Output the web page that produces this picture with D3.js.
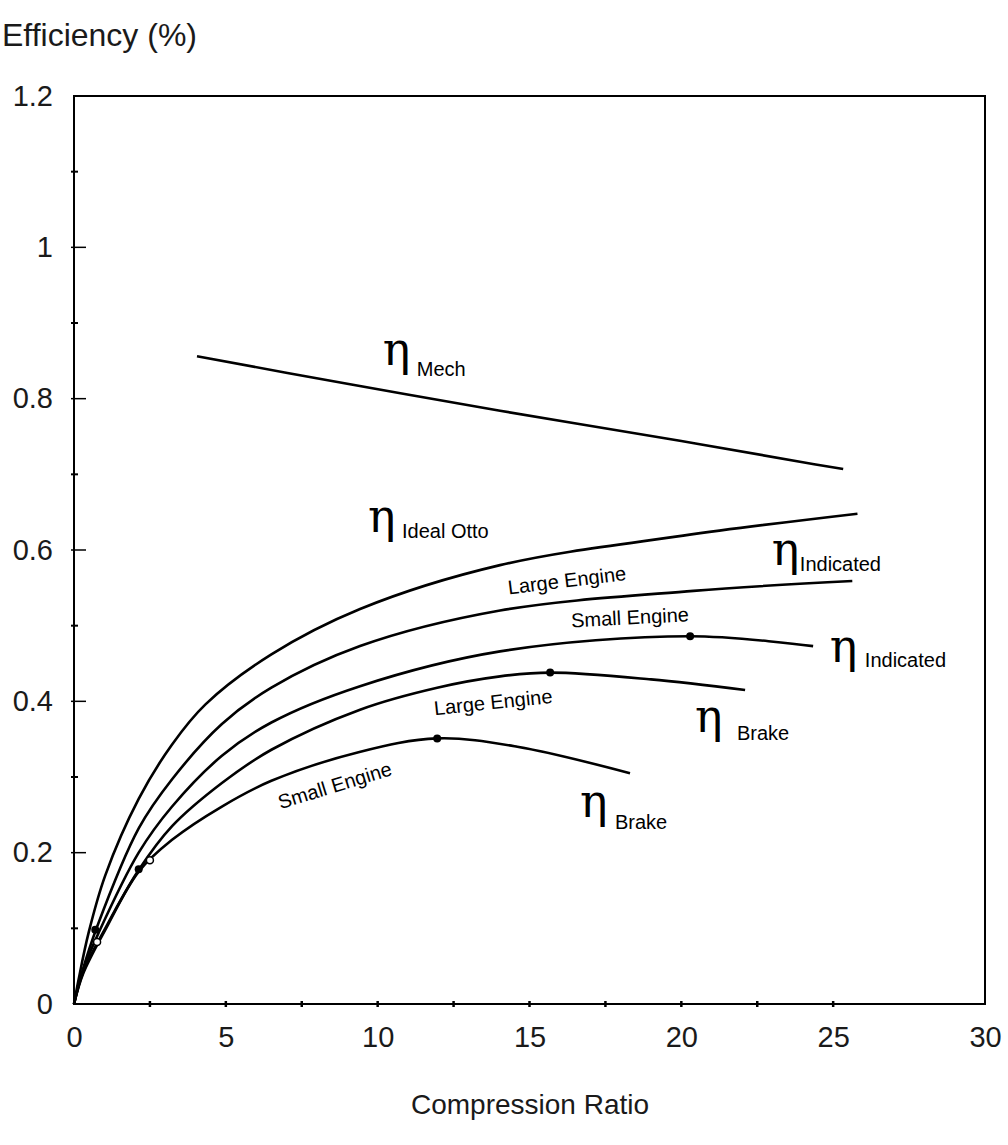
<html>
<head>
<meta charset="utf-8"/>
<script src="https://d3js.org/d3.v7.min.js"></script>
<style type="text/css">
body {
  margin: 0;
  background: #fff;
  font-family: "Liberation Sans", Arial, Helvetica, sans-serif;
}
</style>
</head>
<body>
<div id="v"></div>
<script type="text/javascript">
// values: [compression ratio, efficiency]
var idealOtto = [[0,0],[0.15,0.032],[0.48,0.094],[1.03,0.170],[2.13,0.271],[3.23,0.343],[4.33,0.396],[6.5,0.462],[9.42,0.522],[14.03,0.580],[20.06,0.619],[25.8,0.648]];
var largeIndicated = [[0,0],[0.26,0.041],[0.76,0.102],[2.13,0.232],[3.23,0.297],[4.87,0.370],[6.5,0.418],[9.42,0.473],[14.03,0.520],[20.4,0.546],[25.63,0.559]];
var smallIndicated = [[0,0],[0.3,0.045],[0.81,0.094],[2.13,0.2],[3.23,0.261],[4.87,0.328],[6.5,0.372],[9.42,0.420],[14.03,0.466],[20.29,0.486],[24.34,0.473]];
var largeBrake = [[0,0],[0.3,0.042],[1.03,0.100],[2.13,0.177],[3.23,0.235],[4.87,0.292],[6.5,0.336],[9.42,0.389],[11.96,0.418],[14.03,0.433],[15.68,0.438],[19,0.429],[22.1,0.415]];
var smallBrake = [[0,0],[0.3,0.040],[1.03,0.098],[2.13,0.175],[3.23,0.217],[4.87,0.261],[6.5,0.295],[9.4,0.333],[11.96,0.351],[14.6,0.340],[18.31,0.305]];
var mech = [[4.05,0.856],[9.09,0.819],[14.03,0.784],[20,0.744],[24,0.716],[25.33,0.707]];

var filledDots = [[20.29,0.486],[15.68,0.438],[11.96,0.351],[2.13,0.178],[0.70,0.098]];
var openDots = [[2.5,0.19],[0.76,0.082]];

var xTicks = [0,5,10,15,20,25,30];
var yTicks = [0,0.2,0.4,0.6,0.8,1,1.2];
var xMinor = [2.5,5,7.5,10,12.5,15,17.5,20,22.5,25];
var yMinor = [0.1,0.3,0.5,0.7,0.9,1.1];
var yMajorInner = [0.2,0.4,0.6,0.8,1];

var width = 1008, height = 1145;
var x = d3.scaleLinear().domain([0,30]).range([74,985]);
var y = d3.scaleLinear().domain([0,1.2]).range([1004,96]);

var svg = d3.select("#v").append("svg")
  .attr("width", width)
  .attr("height", height);

// frame
svg.append("rect")
  .attr("x", x(0)).attr("y", y(1.2))
  .attr("width", x(30) - x(0)).attr("height", y(0) - y(1.2))
  .attr("fill", "none").attr("stroke", "#000").attr("stroke-width", 2);

// axes (labels only, ticks drawn below)
var yAxis = svg.append("g")
  .attr("transform", "translate(" + x(0) + ",0)")
  .call(d3.axisLeft(y).tickValues(yTicks).tickSize(0).tickPadding(21).tickFormat(d3.format("")));
var xAxis = svg.append("g")
  .attr("transform", "translate(0," + y(0) + ")")
  .call(d3.axisBottom(x).tickValues(xTicks).tickSize(0).tickPadding(22).tickFormat(d3.format("d")));
[yAxis, xAxis].forEach(function(a) {
  a.select(".domain").remove();
  a.selectAll("text")
    .style("font-family", "'Liberation Sans', Arial, sans-serif")
    .style("font-size", "29px")
    .attr("fill", "#1a1a1a");
});

svg.selectAll(".yminor").data(yMinor).enter().append("line")
  .attr("x1", x(0) - 3).attr("x2", x(0) + 4)
  .attr("y1", function(d) { return y(d); }).attr("y2", function(d) { return y(d); })
  .attr("stroke", "#000").attr("stroke-width", 2);
svg.selectAll(".ymajor").data(yMajorInner).enter().append("line")
  .attr("x1", x(0) - 3).attr("x2", x(0) + 12)
  .attr("y1", function(d) { return y(d); }).attr("y2", function(d) { return y(d); })
  .attr("stroke", "#000").attr("stroke-width", 1.5);
svg.selectAll(".xminor").data(xMinor).enter().append("line")
  .attr("x1", function(d) { return x(d); }).attr("x2", function(d) { return x(d); })
  .attr("y1", y(0) - 3).attr("y2", y(0) + 3)
  .attr("stroke", "#000").attr("stroke-width", 2.5);

// curves
var line = d3.line()
  .x(function(d) { return x(d[0]); })
  .y(function(d) { return y(d[1]); })
  .curve(d3.curveCatmullRom.alpha(0.5));

[idealOtto, largeIndicated, smallIndicated, largeBrake, smallBrake, mech].forEach(function(s) {
  svg.append("path")
    .datum(s)
    .attr("d", line)
    .attr("fill", "none")
    .attr("stroke", "#000")
    .attr("stroke-width", 2.6)
    .attr("stroke-linejoin", "round");
});

svg.selectAll(".fdot").data(filledDots).enter().append("circle")
  .attr("cx", function(d) { return x(d[0]); })
  .attr("cy", function(d) { return y(d[1]); })
  .attr("r", 4).attr("fill", "#000");
svg.selectAll(".odot").data(openDots).enter().append("circle")
  .attr("cx", function(d) { return x(d[0]); })
  .attr("cy", function(d) { return y(d[1]); })
  .attr("r", 3.5).attr("fill", "#fff").attr("stroke", "#000").attr("stroke-width", 1.5);

// eta labels: position of the eta glyph, subscript offset in px
var etaLabels = [
  {x: 10.17, y: 0.844, sub: "Mech", dx: 34, dy: 11},
  {x: 9.68, y: 0.624, sub: "Ideal Otto", dx: 34, dy: 6},
  {x: 22.98, y: 0.580, sub: "Indicated", dx: 28, dy: 6},
  {x: 24.89, y: 0.452, sub: "Indicated", dx: 35, dy: 5},
  {x: 20.45, y: 0.359, sub: "Brake", dx: 42, dy: 8},
  {x: 16.66, y: 0.247, sub: "Brake", dx: 35, dy: 12}
];
var eg = svg.selectAll(".eta").data(etaLabels).enter().append("g")
  .attr("transform", function(d) { return "translate(" + x(d.x) + "," + y(d.y) + ")"; });
eg.append("text")
  .text("\u03b7")
  .style("font-family", "'DejaVu Serif', serif")
  .style("font-size", "46px")
  .attr("fill", "#000");
eg.append("text")
  .text(function(d) { return d.sub; })
  .attr("x", function(d) { return d.dx; })
  .attr("y", function(d) { return d.dy; })
  .style("font-size", "20px")
  .attr("fill", "#000");

// engine size labels along the curves
var curveLabels = [
  {x: 16.23, y: 0.560, text: "Large Engine", angle: -7},
  {x: 18.31, y: 0.511, text: "Small Engine", angle: -3},
  {x: 13.80, y: 0.399, text: "Large Engine", angle: -6},
  {x: 8.59, y: 0.289, text: "Small Engine", angle: -17}
];
svg.selectAll(".clab").data(curveLabels).enter().append("text")
  .attr("transform", function(d) { return "translate(" + x(d.x) + "," + y(d.y) + ") rotate(" + d.angle + ")"; })
  .attr("text-anchor", "middle")
  .attr("dy", "0.35em")
  .style("font-size", "20px")
  .attr("fill", "#000")
  .text(function(d) { return d.text; });

// axis titles
svg.append("text")
  .attr("x", 2).attr("y", 46)
  .style("font-size", "32px")
  .attr("fill", "#1a1a1a")
  .text("Efficiency (%)");
svg.append("text")
  .attr("x", 530).attr("y", 1114)
  .attr("text-anchor", "middle")
  .style("font-size", "28px")
  .attr("fill", "#1a1a1a")
  .text("Compression Ratio");
</script>
</body>
</html>
